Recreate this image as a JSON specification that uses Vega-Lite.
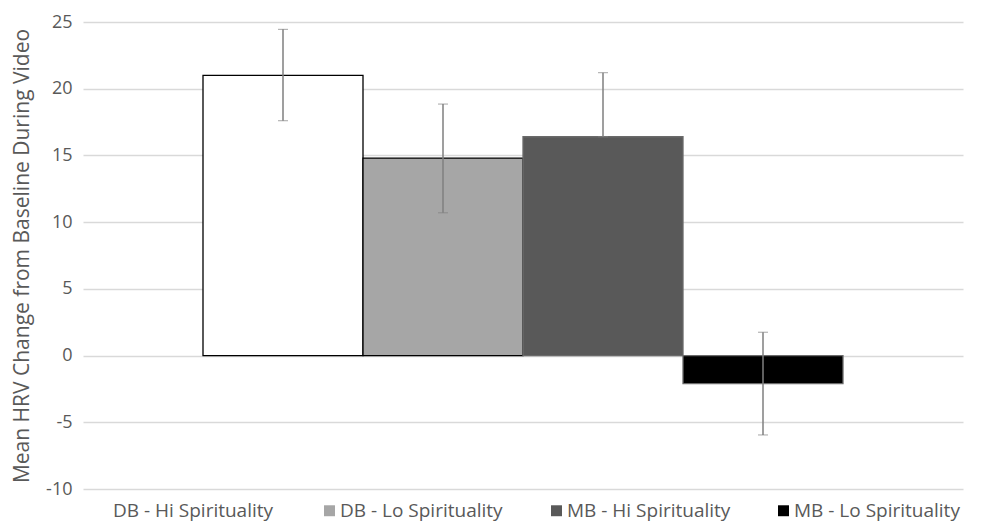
{
  "$schema": "https://vega.github.io/schema/vega-lite/v6.json",
  "width": 880,
  "height": 467,
  "autosize": {"type": "none"},
  "padding": {"left": 83, "top": 22, "right": 21, "bottom": 37},
  "background": "white",
  "config": {
    "view": {"stroke": null},
    "font": "Open Sans"
  },
  "data": {
    "values": [
      {"series": "DB - Hi Spirituality", "mean": 21.0, "lo": 17.6, "hi": 24.45},
      {"series": "DB - Lo Spirituality", "mean": 14.8, "lo": 10.7, "hi": 18.85},
      {"series": "MB - Hi Spirituality", "mean": 16.4, "lo": 16.4, "hi": 21.2},
      {"series": "MB - Lo Spirituality", "mean": -2.1, "lo": -5.95, "hi": 1.75}
    ]
  },
  "encoding": {
    "x": {
      "field": "series",
      "type": "nominal",
      "sort": null,
      "axis": null,
      "scale": {"paddingInner": 0, "paddingOuter": 0.75}
    }
  },
  "layer": [
    {
      "mark": {"type": "bar", "strokeWidth": 1.3},
      "encoding": {
        "y": {
          "field": "mean",
          "type": "quantitative",
          "title": "Mean HRV Change from Baseline During Video",
          "scale": {"domain": [-10, 25], "nice": false, "zero": true},
          "axis": {
            "values": [-10, -5, 0, 5, 10, 15, 20, 25],
            "labelExpr": "'' + datum.value",
            "titleFontSize": 21,
            "titleFontWeight": "normal",
            "titleColor": "#595959",
            "titlePadding": 13,
            "labelFontSize": 18,
            "labelColor": "#595959",
            "labelPadding": 11,
            "domain": false,
            "ticks": false,
            "gridColor": "#d9d9d9",
            "gridWidth": 1.3
          }
        },
        "fill": {
          "field": "series",
          "type": "nominal",
          "sort": null,
          "scale": {"range": ["#ffffff", "#a6a6a6", "#595959", "#000000"]},
          "legend": {
            "title": null,
            "orient": "none",
            "direction": "horizontal",
            "columns": 4,
            "gridAlign": "all",
            "legendX": 10,
            "legendY": 479,
            "symbolType": "square",
            "symbolSize": 120,
            "symbolStrokeWidth": 0,
            "labelFontSize": 19,
            "labelColor": "#595959",
            "labelOffset": 1,
            "columnPadding": 41,
            "labelLimit": 300
          }
        },
        "stroke": {
          "condition": {"test": "datum.series === 'MB - Hi Spirituality' || datum.series === 'MB - Lo Spirituality'", "value": "#6a6a6a"},
          "value": "#000000"
        }
      }
    },
    {
      "mark": {
        "type": "errorbar",
        "ticks": {"size": 10, "color": "#7f7f7f", "strokeWidth": 1.5},
        "rule": {"color": "#7f7f7f", "strokeWidth": 1.5}
      },
      "encoding": {
        "y": {"field": "lo", "type": "quantitative", "title": "Mean HRV Change from Baseline During Video"},
        "y2": {"field": "hi"}
      }
    }
  ]
}
